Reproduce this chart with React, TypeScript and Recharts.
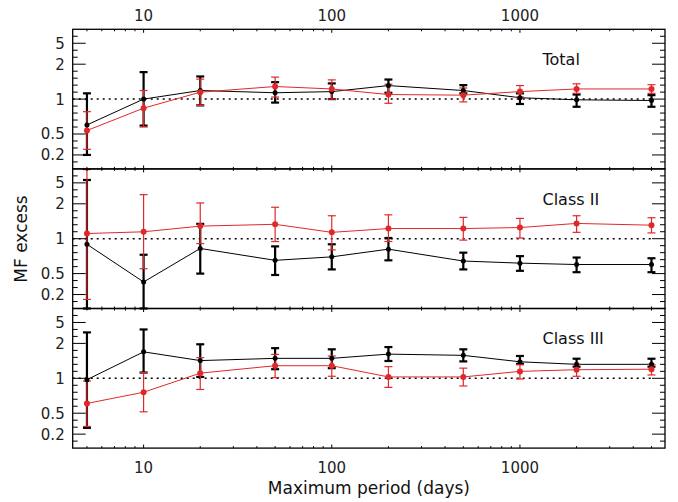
import { ComposedChart, Line, XAxis, YAxis, ErrorBar, ReferenceLine } from "recharts";

// periods at which the multiplicity-frequency excess was evaluated (days)
const periods = [5, 10, 20, 50, 100, 200, 500, 1000, 2000, 5000];

// Total sample
const totalBlack = [0.63, 1.0, 1.14, 1.1, 1.12, 1.24, 1.14, 1.02, 0.99, 0.98];
const totalBlackLow = [0.2, 0.62, 0.91, 0.95, 1.0, 1.1, 1.09, 0.93, 0.89, 0.89];
const totalBlackHigh = [1.09, 1.63, 1.48, 1.32, 1.29, 1.39, 1.25, 1.09, 1.07, 1.06];
const totalRed = [0.55, 0.87, 1.11, 1.22, 1.17, 1.07, 1.06, 1.12, 1.17, 1.17];
const totalRedLow = [0.28, 0.6, 0.91, 1.03, 1.0, 0.94, 0.96, 1.03, 1.09, 1.09];
const totalRedHigh = [0.82, 1.14, 1.4, 1.46, 1.38, 1.27, 1.19, 1.24, 1.28, 1.26];

// Class II
const class2Black = [0.92, 0.38, 0.86, 0.69, 0.74, 0.85, 0.68, 0.65, 0.63, 0.63];
const class2BlackLow = [0.0, 0.0, 0.5, 0.48, 0.56, 0.69, 0.56, 0.54, 0.52, 0.52];
const class2BlackHigh = [6.3, 0.77, 1.27, 0.89, 0.92, 1.01, 0.8, 0.75, 0.73, 0.72];
const class2Red = [1.08, 1.11, 1.22, 1.26, 1.1, 1.17, 1.17, 1.19, 1.28, 1.24];
const class2RedLow = [0.13, 0.57, 0.93, 0.96, 0.84, 0.96, 0.98, 1.01, 1.1, 1.09];
const class2RedHigh = [100, 2.71, 2.05, 1.82, 1.49, 1.52, 1.44, 1.41, 1.49, 1.43];

// Class III
const class3Black = [0.98, 1.61, 1.34, 1.4, 1.4, 1.53, 1.49, 1.31, 1.25, 1.25];
const class3BlackLow = [0.29, 1.09, 1.02, 1.15, 1.17, 1.33, 1.32, 1.26, 1.2, 1.2];
const class3BlackHigh = [2.92, 3.33, 1.95, 1.76, 1.71, 1.81, 1.71, 1.47, 1.39, 1.39];
const class3Red = [0.64, 0.8, 1.08, 1.22, 1.22, 1.02, 1.02, 1.11, 1.14, 1.15];
const class3RedLow = [0.31, 0.52, 0.84, 1.01, 1.03, 0.87, 0.89, 0.99, 1.03, 1.05];
const class3RedHigh = [0.96, 1.09, 1.42, 1.52, 1.47, 1.2, 1.17, 1.24, 1.25, 1.25];

const yLabels = [0.2, 0.5, 1, 2, 5];
const xLabels = [10, 100, 1000];

const W = 678;
const H = 502;
const LEFT = 72.7;
const RIGHT = 665;
const PANEL_H = 139.6;
const PANEL_TOPS = [29.3, 168.9, 308.5];
const X_DOMAIN: [number, number] = [4.2, 5900];
const AXIS_SIZE = 1;
const RED = "#e0282b";
const FONT = "'DejaVu Sans', sans-serif";

// MF excess is squeezed into [-1, 1]: linear below 1, 1 - 1/m above 1
const squash = (m: number) => (m < 1 ? m - 1 : 1 - 1 / m);

function buildRows(bv: number[], bl: number[], bh: number[], rv: number[], rl: number[], rh: number[]) {
  return periods.map((p, i) => ({
    period: p,
    black: squash(bv[i]),
    blackErr: [squash(bv[i]) - squash(bl[i]), squash(bh[i]) - squash(bv[i])],
    red: squash(rv[i]),
    redErr: [squash(rv[i]) - squash(rl[i]), squash(rh[i]) - squash(rv[i])],
  }));
}

const panels = [
  { title: "Total", rows: buildRows(totalBlack, totalBlackLow, totalBlackHigh, totalRed, totalRedLow, totalRedHigh) },
  { title: "Class II", rows: buildRows(class2Black, class2BlackLow, class2BlackHigh, class2Red, class2RedLow, class2RedHigh) },
  { title: "Class III", rows: buildRows(class3Black, class3BlackLow, class3BlackHigh, class3Red, class3RedLow, class3RedHigh) },
];

// tick positions: every 0.1 in squashed units, log minors on x
const yTicks: number[] = [];
for (let i = -9; i <= 9; i++) yTicks.push(i / 10);
const xTicks: number[] = [];
for (let d = 1; d <= 1000; d *= 10) {
  for (let k = 1; k <= 9; k++) {
    const t = k * d;
    if (t >= X_DOMAIN[0] && t <= X_DOMAIN[1]) xTicks.push(t);
  }
}

const yLabelFor = (v: number) => {
  const i = yLabels.findIndex((l) => Math.abs(squash(l) - v) < 1e-6);
  return i < 0 ? null : String(yLabels[i]);
};

// frame coordinates, so ticks start on the frame whatever the axis box is
const frameX = (side: string) => (side === "left" ? LEFT : RIGHT);

function YTick(props: any) {
  const { y, payload, side } = props;
  const x = frameX(side);
  const label = yLabelFor(payload.value);
  const len = label ? 13 : 5;
  const dir = side === "left" ? 1 : -1;
  return (
    <g>
      <line x1={x} x2={x + dir * len} y1={y} y2={y} stroke="#000" strokeWidth={1} />
      {side === "left" && label && (
        <text x={x - 8} y={y + 5.4} textAnchor="end" fontFamily={FONT} fontSize={15} fill="#222">
          {label}
        </text>
      )}
    </g>
  );
}

function XTick(props: any) {
  const { x, payload, side, showLabel, frameY } = props;
  const y = frameY;
  const major = xLabels.includes(payload.value);
  const len = major ? 3.5 : 2;
  const dir = side === "top" ? 1 : -1;
  return (
    <g>
      <line x1={x} x2={x} y1={y} y2={y + dir * len} stroke="#000" strokeWidth={1} />
      {showLabel && major && (
        <text x={x} y={side === "top" ? y - 8.3 : y + 25.2} textAnchor="middle" fontFamily={FONT} fontSize={15} fill="#222">
          {payload.value}
        </text>
      )}
    </g>
  );
}

const frame = { stroke: "#000", strokeWidth: 1.3 };

function Panel({ rows, top, index }: { rows: any[]; top: number; index: number }) {
  const bottom = top + PANEL_H;
  return (
    <div style={{ position: "absolute", left: 0, top: 0 }}>
      <ComposedChart
        width={W}
        height={H}
        data={rows}
        margin={{
          top: top - AXIS_SIZE,
          bottom: H - bottom - AXIS_SIZE,
          left: LEFT - AXIS_SIZE,
          right: W - RIGHT - AXIS_SIZE,
        }}
      >
        <XAxis
          xAxisId="top"
          orientation="top"
          dataKey="period"
          type="number"
          scale="log"
          domain={X_DOMAIN}
          allowDataOverflow
          ticks={xTicks}
          interval={0}
          height={AXIS_SIZE}
          tickSize={0}
          tickMargin={0}
          tickLine={false}
          axisLine={false}
          tick={(p: any) => <XTick {...p} side="top" frameY={top} showLabel={index === 0} />}
        />
        <XAxis
          xAxisId="bottom"
          orientation="bottom"
          dataKey="period"
          type="number"
          scale="log"
          domain={X_DOMAIN}
          allowDataOverflow
          ticks={xTicks}
          interval={0}
          height={AXIS_SIZE}
          tickSize={0}
          tickMargin={0}
          tickLine={false}
          axisLine={false}
          tick={(p: any) => <XTick {...p} side="bottom" frameY={bottom} showLabel={index === 2} />}
        />
        <YAxis
          yAxisId="left"
          orientation="left"
          type="number"
          domain={[-1, 1]}
          allowDataOverflow
          ticks={yTicks}
          interval={0}
          width={AXIS_SIZE}
          tickSize={0}
          tickMargin={0}
          tickLine={false}
          axisLine={false}
          tick={(p: any) => <YTick {...p} side="left" />}
        />
        <YAxis
          yAxisId="right"
          orientation="right"
          type="number"
          domain={[-1, 1]}
          allowDataOverflow
          ticks={yTicks}
          interval={0}
          width={AXIS_SIZE}
          tickSize={0}
          tickMargin={0}
          tickLine={false}
          axisLine={false}
          tick={(p: any) => <YTick {...p} side="right" />}
        />
        <ReferenceLine
          xAxisId="bottom"
          yAxisId="left"
          segment={[
            { x: X_DOMAIN[0], y: 0 },
            { x: 5000, y: 0 },
          ]}
          stroke="#000"
          strokeWidth={1.5}
          strokeDasharray="2 4"
        />
        <Line
          xAxisId="bottom"
          yAxisId="left"
          dataKey="black"
          stroke="#000"
          strokeWidth={1}
          dot={{ r: 2.5, fill: "#000", stroke: "none" }}
          isAnimationActive={false}
        >
          <ErrorBar dataKey="blackErr" direction="y" width={4} stroke="#000" strokeWidth={2.2} />
        </Line>
        <Line
          xAxisId="bottom"
          yAxisId="left"
          dataKey="red"
          stroke={RED}
          strokeWidth={1}
          dot={{ r: 3, fill: RED, stroke: "none" }}
          isAnimationActive={false}
        >
          <ErrorBar dataKey="redErr" direction="y" width={4} stroke={RED} strokeWidth={1.2} />
        </Line>
      </ComposedChart>
    </div>
  );
}

export default function App() {
  return (
    <div style={{ position: "absolute", left: 0, top: 0, width: W, height: H, background: "#fff" }}>
      {panels.map((p, i) => (
        <Panel key={p.title} rows={p.rows} top={PANEL_TOPS[i]} index={i} />
      ))}
      <svg width={W} height={H} style={{ position: "absolute", left: 0, top: 0, pointerEvents: "none" }}>
        {/* panel frames */}
        {PANEL_TOPS.map((t) => (
          <rect key={t} x={LEFT} y={t} width={RIGHT - LEFT} height={PANEL_H} fill="none" stroke="#000" strokeWidth={1.3} />
        ))}
        {panels.map((p, i) => (
          <text key={p.title} x={542.5} y={PANEL_TOPS[i] + 35.7} fontFamily={FONT} fontSize={16} fill="#111">
            {p.title}
          </text>
        ))}
        <text
          x={26.5}
          y={239}
          transform="rotate(-90, 26.5, 239)"
          textAnchor="middle"
          fontFamily={FONT}
          fontSize={17}
          fill="#111"
        >
          MF excess
        </text>
        <text x={368.9} y={494} textAnchor="middle" fontFamily={FONT} fontSize={17} fill="#111">
          Maximum period (days)
        </text>
      </svg>
    </div>
  );
}
